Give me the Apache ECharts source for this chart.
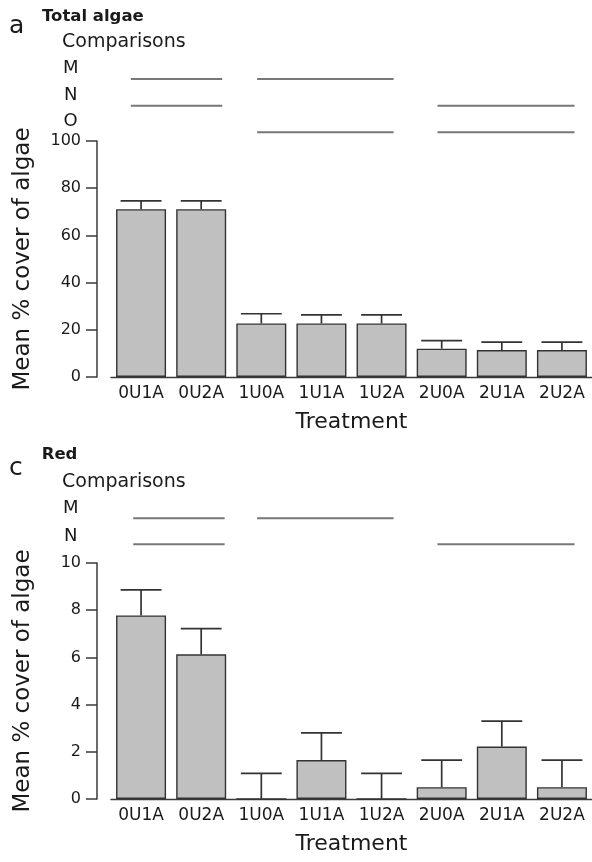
<!DOCTYPE html>
<html>
<head>
<meta charset="utf-8">
<script src="https://cdn.jsdelivr.net/npm/echarts@6/dist/echarts.min.js"></script>
<style>
html,body{margin:0;padding:0;background:#fff;}
#chart{width:592px;height:862px;}
</style>
</head>
<body>
<div id="chart"></div>
<script>
// ---- data ----
const categories = ['0U1A','0U2A','1U0A','1U1A','1U2A','2U0A','2U1A','2U2A'];
const totalMean  = [71.1, 71.1, 22.7, 22.7, 22.7, 12.0, 11.4, 11.4];
const totalUpper = [74.6, 74.6, 26.8, 26.3, 26.3, 15.4, 14.8, 14.8];
const redMean    = [7.78, 6.13, 0, 1.65, 0, 0.5, 2.22, 0.5];
const redUpper   = [8.86, 7.22, 1.09, 2.8, 1.09, 1.65, 3.3, 1.65];
// comparison segments, in category-index units [start, end]
const compTotalM = [[-0.17, 1.35], [1.93, 4.2]];
const compTotalN = [[-0.17, 1.35], [4.93, 7.21]];
const compTotalO = [[1.93, 4.2], [4.93, 7.21]];
const compRedM   = [[-0.13, 1.39], [1.93, 4.2]];
const compRedN   = [[-0.13, 1.39], [4.93, 7.21]];
const totalTicks = [0, 20, 40, 60, 80, 100];
const redTicks   = [0, 2, 4, 6, 8, 10];

// ---- style ----
const FONT = 'DejaVu Sans';
const TXT = '#1a1a1a';
const AX = '#3a3a3a';

function rows(list) {
  const out = [];
  list.forEach((segs, r) => segs.forEach(s => out.push([s[0], s[1], r])));
  return out;
}
function errData(mean, upper) {
  return mean.map((m, i) => [i, m, upper[i]]);
}

function catAxis(gi) {
  return {
    type: 'category', gridIndex: gi, data: categories,
    boundaryGap: true,
    axisLine: {show: true, lineStyle: {color: AX, width: 1.3}},
    axisTick: {show: false},
    axisLabel: {color: TXT, fontFamily: FONT, fontSize: 17, margin: 8},
    name: 'Treatment', nameLocation: 'middle', nameGap: 34,
    nameTextStyle: {color: TXT, fontFamily: FONT, fontSize: 22}
  };
}
function valAxis(gi, max, interval) {
  return {
    type: 'value', gridIndex: gi, min: 0, max: max, interval: interval,
    offset: 14,
    axisLine: {show: true, lineStyle: {color: AX, width: 1.5}},
    axisTick: {show: true, length: 11, lineStyle: {color: AX, width: 1.5}},
    axisLabel: {color: TXT, fontFamily: FONT, fontSize: 16, margin: 16},
    splitLine: {show: false},
    name: 'Mean % cover of algae', nameLocation: 'middle', nameGap: 62,
    nameRotate: 90,
    nameTextStyle: {color: TXT, fontFamily: FONT, fontSize: 23}
  };
}
function hiddenX(gi) {
  return {type: 'value', gridIndex: gi, min: -0.5, max: 7.5, show: false};
}
function hiddenY(gi, max) {
  return {type: 'value', gridIndex: gi, min: 0, max: max, inverse: true, show: false};
}

function barSeries(xi, yi, data) {
  return {
    type: 'bar', xAxisIndex: xi, yAxisIndex: yi, data: data,
    barWidth: 50, silent: true,
    itemStyle: {color: '#c0c0c0', borderColor: '#333', borderWidth: 1.4}
  };
}
function errSeries(xi, yi, data) {
  return {
    type: 'custom', xAxisIndex: xi, yAxisIndex: yi, data: data, silent: true,
    encode: {x: 0, y: [1, 2]}, z: 5,
    renderItem: function (params, api) {
      const i = api.value(0);
      const lo = api.coord([i, api.value(1)]);
      const hi = api.coord([i, api.value(2)]);
      const half = api.size([1, 0])[0] * 0.34;
      const st = {stroke: '#333', lineWidth: 1.7};
      return {type: 'group', children: [
        {type: 'line', shape: {x1: lo[0], y1: lo[1], x2: hi[0], y2: hi[1]}, style: st},
        {type: 'line', shape: {x1: hi[0] - half, y1: hi[1], x2: hi[0] + half, y2: hi[1]}, style: st}
      ]};
    }
  };
}
function compSeries(xi, yi, data) {
  return {
    type: 'custom', xAxisIndex: xi, yAxisIndex: yi, data: data, silent: true,
    encode: {x: [0, 1], y: 2},
    renderItem: function (params, api) {
      const a = api.coord([api.value(0), api.value(2)]);
      const b = api.coord([api.value(1), api.value(2)]);
      return {type: 'line', shape: {x1: a[0], y1: a[1], x2: b[0], y2: b[1]},
              style: {stroke: '#777', lineWidth: 2}};
    }
  };
}

function txt(x, y, text, size, bold, align) {
  return {type: 'text', x: x, y: y, silent: true,
    style: {text: text, fill: TXT, font: (bold ? 'bold ' : '') + size + 'px "' + FONT + '"',
            textAlign: align || 'left', textVerticalAlign: 'middle'}};
}

const chart = echarts.init(document.getElementById('chart'), null, {renderer: 'canvas'});
chart.setOption({
  animation: false,
  backgroundColor: '#fff',
  grid: [
    {left: 111, top: 141, width: 486, height: 236},
    {left: 111, top: 79, width: 486, height: 53.3},
    {left: 111, top: 563, width: 486, height: 236},
    {left: 111, top: 518.3, width: 486, height: 26}
  ],
  xAxis: [catAxis(0), hiddenX(1), catAxis(2), hiddenX(3)],
  yAxis: [valAxis(0, 100, 20), hiddenY(1, 2), valAxis(2, 10, 2), hiddenY(3, 1)],
  series: [
    barSeries(0, 0, totalMean),
    errSeries(0, 0, errData(totalMean, totalUpper)),
    compSeries(1, 1, rows([compTotalM, compTotalN, compTotalO])),
    barSeries(2, 2, redMean),
    errSeries(2, 2, errData(redMean, redUpper)),
    compSeries(3, 3, rows([compRedM, compRedN]))
  ],
  graphic: [
    txt(9, 26, 'a', 25, false),
    txt(42, 16.7, 'Total algae', 16.5, true),
    txt(62, 41.7, 'Comparisons', 19, false),
    txt(70.7, 68.3, 'M', 18, false, 'center'),
    txt(70.7, 95, 'N', 18, false, 'center'),
    txt(70.7, 121.7, 'O', 18, false, 'center'),
    txt(9, 468, 'c', 25, false),
    txt(41.7, 455, 'Red', 16.5, true),
    txt(62, 481.7, 'Comparisons', 19, false),
    txt(70.7, 508.8, 'M', 18, false, 'center'),
    txt(70.7, 536.7, 'N', 18, false, 'center')
  ]
});
</script>
</body>
</html>
